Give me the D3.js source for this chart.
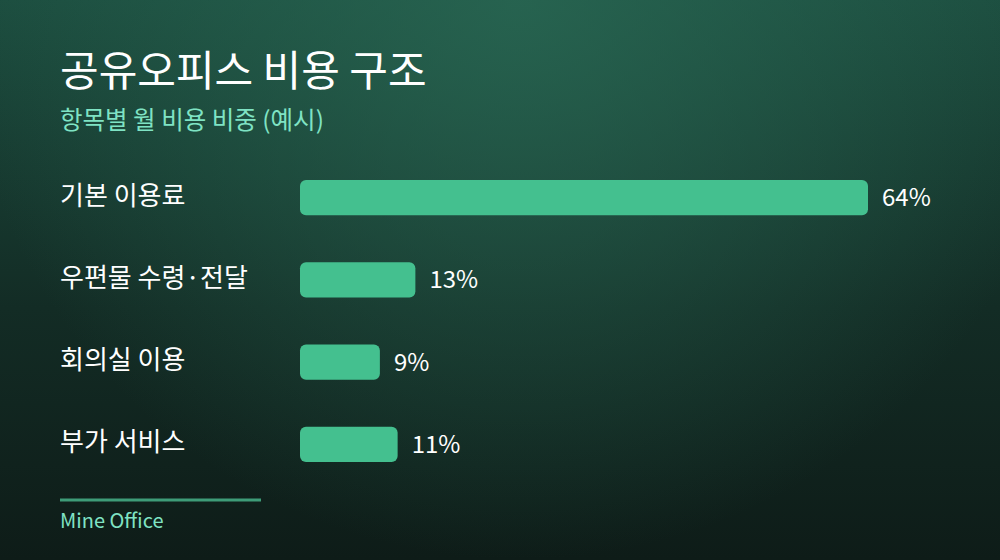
<!DOCTYPE html>
<html><head><meta charset="utf-8">
<script src="https://cdn.jsdelivr.net/npm/d3@7"></script>
<style>html,body{margin:0;padding:0;background:#10221d;}svg{display:block;}</style>
</head><body>
<script>
const categories = ["기본 이용료", "우편물 수령·전달", "회의실 이용", "부가 서비스"];
const values = [64, 13, 9, 11];
const valueLabels = ["64%", "13%", "9%", "11%"];
const title = "공유오피스 비용 구조";
const subtitle = "항목별 월 비용 비중 (예시)";
const footer = "Mine Office";

const W = 1000, H = 560;
const font = "'Noto Sans CJK KR','Noto Sans',sans-serif";
const svg = d3.select("body").append("svg").attr("width", W).attr("height", H);
const defs = svg.append("defs");
const lg = defs.append("linearGradient").attr("id","bgl").attr("x1",0).attr("y1",0).attr("x2",0).attr("y2",1);
lg.append("stop").attr("offset","0%").attr("stop-color","#1c4d3f");
lg.append("stop").attr("offset","55%").attr("stop-color","#132c25");
lg.append("stop").attr("offset","100%").attr("stop-color","#0e1c18");
const rg = defs.append("radialGradient").attr("id","bgr").attr("gradientUnits","userSpaceOnUse")
  .attr("cx",520).attr("cy",0).attr("r",560);
rg.append("stop").attr("offset","0%").attr("stop-color","#2a6a55").attr("stop-opacity",0.75);
rg.append("stop").attr("offset","100%").attr("stop-color","#2a6a55").attr("stop-opacity",0);
svg.append("rect").attr("width",W).attr("height",H).attr("fill","url(#bgl)");
svg.append("rect").attr("width",W).attr("height",H).attr("fill","url(#bgr)");

svg.append("text").attr("x",60).attr("y",86).text(title)
  .attr("font-family",font).attr("font-size",42).attr("font-weight",400).attr("fill","#ffffff");
svg.append("text").attr("x",60).attr("y",129).text(subtitle)
  .attr("font-family",font).attr("font-size",24.5).attr("fill","#7fe3c4");

const x = d3.scaleLinear().domain([0, 64]).range([300, 868]);
const y = d3.scaleBand().domain(categories).range([180, 462]).paddingInner(0.57).paddingOuter(0);

const g = svg.append("g");
const rows = g.selectAll("g.row").data(categories).join("g").attr("class","row");
rows.append("rect")
  .attr("x", x(0))
  .attr("y", d => y(d))
  .attr("width", (d,i) => x(values[i]) - x(0))
  .attr("height", y.bandwidth())
  .attr("rx", 6).attr("fill", "#44c08f");
rows.append("text")
  .attr("x", 60).attr("y", d => y(d) + y.bandwidth()/2 - 2)
  .attr("dy","0.35em").text(d => d)
  .attr("font-family",font).attr("font-size",26).attr("fill","#ffffff");
rows.append("text")
  .attr("x", (d,i) => x(values[i]) + 14).attr("y", d => y(d) + y.bandwidth()/2)
  .attr("dy","0.35em").text((d,i) => valueLabels[i])
  .attr("font-family",font).attr("font-size",24).attr("fill","#ffffff");

svg.append("line").attr("x1",60).attr("x2",261).attr("y1",500).attr("y2",500)
  .attr("stroke","#3e9c78").attr("stroke-width",3);
svg.append("text").attr("x",60).attr("y",528).text(footer)
  .attr("font-family",font).attr("font-size",20).attr("fill","#7fe3c4");
</script>
</body></html>
